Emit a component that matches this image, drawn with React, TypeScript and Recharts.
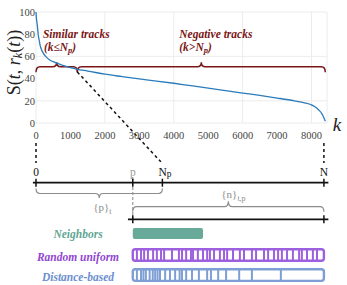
import React from 'react';
import {
  LineChart,
  Line,
  XAxis,
  YAxis,
  CartesianGrid,
  ReferenceLine,
  ReferenceArea,
  ReferenceDot,
} from 'recharts';

// ---------- data ----------
const kValues = [0, 10, 25, 40, 65, 90, 120, 160, 210, 280, 400, 550, 700, 850, 1000, 1200, 1500, 2000, 2500, 3000, 3500, 4000, 4500, 5000, 5500, 6000, 6500, 7000, 7500, 7800, 8000, 8100, 8200, 8300, 8350, 8400];
const scoreValues = [100, 95, 91, 87.5, 79.5, 75, 70, 66, 63, 60, 56.8, 54.6, 52.9, 51.3, 49.8, 48.3, 46.8, 44, 41.8, 39.7, 37.8, 35.8, 33.6, 31.4, 29.2, 27, 24.8, 22.5, 20, 18.2, 16.3, 14.6, 12, 8.5, 5.5, 1.5];
const xTicks = [0, 1000, 2000, 3000, 4000, 5000, 6000, 7000, 8000];
const yTicks = [0, 20, 40, 60, 80, 100];

const K_MAX = 8400; // last track (top curve)
const NP_TOP = 1200; // N_p on the top curve
const BRACE_LEVEL = 50.7;

// schematic number line (in k units)
const SCH_ZERO = 0;
const SCH_P = 2810;
const SCH_NP = 3670;
const SCH_N = 8360;
const NEIGHBORS_END = 4850;

const randomStripes = [2930, 3050, 3140, 3250, 3400, 3510, 3630, 3720, 3950, 4150, 4240, 4360, 4500, 4560, 4700, 4850, 4970, 5050, 5170, 5340, 5460, 5550, 5720, 5920, 6040, 6270, 6390, 6620, 6740, 6910, 7030, 7140, 7290, 7460, 7640, 7720, 7870, 8040, 8160];
const distanceStripes = [2930, 3050, 3120, 3190, 3300, 3390, 3460, 3530, 3600, 3750, 3890, 4040, 4170, 4240, 4360, 4530, 4730, 4970, 5080, 5290, 5520, 5900, 6270, 7110];

// schematic rows (in score units, below the plot)
const ROW_DASH = [-18, -36];
const ROW_TICK_LABEL = -47.7;
const ROW_LINE1 = -53.8;
const TICK_HALF = 3.6;
const ROW_BRACE1 = -63.5;
const ROW_BRACE1_LABEL = -79.3;
const ROW_BRACE2 = -75.4;
const ROW_BRACE2_LABEL = -67.6;
const ROW_LINE2 = -86.8;
const ROW_P_DASH = [-48.6, -90.1];
const ROW_NEIGH = [-94.6, -104.5];
const ROW_RAND = [-113.7, -124.1];
const ROW_DIST = [-131.7, -142.2];
const ROW_NEIGH_LABEL = -104;
const ROW_RAND_LABEL = -124.3;
const ROW_DIST_LABEL = -141.9;
const LEGEND_LABEL_K = 1220;

const curveData = kValues.map((k, i) => ({ k, s: scoreValues[i] }));

// ---------- styles ----------
const FONT = "'Liberation Serif', 'Times New Roman', Times, serif";
const RED = '#7a1616';
const BLUE = '#2b7bba';
const GRAY = '#8c8c8c';
const TEAL = '#68aa9a';
const TEAL_TXT = '#5fa693';
const PURPLE = '#9d60df';
const PURPLE_TXT = '#9146d2';
const LBLUE = '#7d9fd5';
const LBLUE_TXT = '#6c8fd0';

function braceShape(dir: number, curl: number, tip: number, r: number) {
  return (props: any) => {
    const { x1, x2, y1, stroke, strokeWidth } = props;
    const xa = Math.min(x1, x2);
    const xb = Math.max(x1, x2);
    const y = y1;
    const xm = (xa + xb) / 2;
    const d = `M${xa},${y + dir * curl} Q${xa},${y} ${xa + r},${y} L${xm - r},${y} Q${xm},${y} ${xm},${y - dir * tip} Q${xm},${y} ${xm + r},${y} L${xb - r},${y} Q${xb},${y} ${xb},${y + dir * curl}`;
    return <path d={d} fill="none" stroke={stroke} strokeWidth={strokeWidth} />;
  };
}

function textShape(render: (cx: number, cy: number) => React.ReactElement) {
  return (props: any) => render(props.cx, props.cy);
}

function rectShape(fill: string, stroke: string, strokeWidth: number, rx: number) {
  return (props: any) => (
    <rect x={props.x} y={props.y} width={props.width} height={props.height} rx={rx} ry={rx} fill={fill} stroke={stroke} strokeWidth={strokeWidth} />
  );
}

const V = 'visible' as const;
const serif = { fontFamily: FONT };

export default function App() {
  const lineTicks = [SCH_ZERO, SCH_P, SCH_NP, SCH_N];
  return (
    <div style={{ position: 'absolute', left: 0, top: 0, width: 347, height: 285, background: '#fff', fontFamily: FONT }}>
      <LineChart width={347} height={285} data={curveData} margin={{ top: 12, right: 20, bottom: 142, left: 0 }} style={serif}>
        <CartesianGrid stroke="#ececec" strokeWidth={1} />
        <XAxis
          dataKey="k"
          type="number"
          domain={[0, 8450]}
          ticks={xTicks}
          tickLine={false}
          axisLine={false}
          tickSize={0}
          tickMargin={9}
          height={20}
          tick={{ fontSize: 10.5, fill: '#444', fontFamily: FONT, style: serif }}
        />
        <YAxis
          type="number"
          domain={[0, 100]}
          ticks={yTicks}
          tickLine={false}
          axisLine={false}
          tickSize={0}
          tickMargin={1}
          width={36}
          tick={{ fontSize: 10.5, fill: '#444', fontFamily: FONT, style: serif }}
        />

        {/* red braces */}
        <ReferenceLine ifOverflow={V} segment={[{ x: 0, y: BRACE_LEVEL }, { x: NP_TOP, y: BRACE_LEVEL }]} stroke={RED} strokeWidth={1.5} shape={braceShape(1, 5.5, 4.5, 4)} />
        <ReferenceLine ifOverflow={V} segment={[{ x: NP_TOP, y: BRACE_LEVEL }, { x: K_MAX, y: BRACE_LEVEL }]} stroke={RED} strokeWidth={1.5} shape={braceShape(1, 5.5, 4.5, 4)} />

        <Line type="monotone" dataKey="s" stroke={BLUE} strokeWidth={1.3} dot={false} isAnimationActive={false} />

        {/* red texts */}
        <ReferenceDot ifOverflow={V} x={200} y={76.9} r={0} shape={textShape((cx, cy) => (
          <text x={cx} y={cy} fill={RED} style={serif} fontSize={11.5} fontWeight="bold" fontStyle="italic">Similar tracks</text>
        ))} />
        <ReferenceDot ifOverflow={V} x={230} y={65.3} r={0} shape={textShape((cx, cy) => (
          <text x={cx} y={cy} fill={RED} style={serif} fontSize={11.5} fontWeight="bold" fontStyle="italic">(k≤N<tspan fontSize={8.5} dy={2.5}>p</tspan><tspan dy={-2.5}>)</tspan></text>
        ))} />
        <ReferenceDot ifOverflow={V} x={4160} y={76.9} r={0} shape={textShape((cx, cy) => (
          <text x={cx} y={cy} fill={RED} style={serif} fontSize={11.5} fontWeight="bold" fontStyle="italic">Negative tracks</text>
        ))} />
        <ReferenceDot ifOverflow={V} x={4160} y={65.3} r={0} shape={textShape((cx, cy) => (
          <text x={cx} y={cy} fill={RED} style={serif} fontSize={11.5} fontWeight="bold" fontStyle="italic">(k&gt;N<tspan fontSize={8.5} dy={2.5}>p</tspan><tspan dy={-2.5}>)</tspan></text>
        ))} />

        {/* axis titles */}
        <ReferenceDot ifOverflow={V} x={-640} y={54.5} r={0} shape={textShape((cx, cy) => (
          <text transform={`rotate(-90 ${cx} ${cy})`} x={cx} y={cy} textAnchor="middle" dominantBaseline="central" style={serif} fontSize={18} fill="#222">
            S(<tspan fontStyle="italic">t</tspan>, <tspan fontStyle="italic">r</tspan><tspan fontStyle="italic" fontSize={12} dy={4}>k</tspan><tspan dy={-4}>(</tspan><tspan fontStyle="italic">t</tspan>))
          </text>
        ))} />
        <ReferenceDot ifOverflow={V} x={8740} y={-7.2} r={0} shape={textShape((cx, cy) => (
          <text x={cx} y={cy} textAnchor="middle" style={serif} fontSize={19} fontStyle="italic" fill="#222">k</text>
        ))} />

        {/* dashed connectors */}
        <ReferenceLine ifOverflow={V} segment={[{ x: NP_TOP, y: 46 }, { x: 3625, y: -35 }]} stroke="#111" strokeWidth={1.5} strokeDasharray="3 3" />
        <ReferenceLine ifOverflow={V} segment={[{ x: SCH_ZERO, y: ROW_DASH[0] }, { x: SCH_ZERO, y: ROW_DASH[1] }]} stroke="#111" strokeWidth={1.5} strokeDasharray="3 3" />
        <ReferenceLine ifOverflow={V} segment={[{ x: SCH_N, y: ROW_DASH[0] }, { x: SCH_N, y: ROW_DASH[1] }]} stroke="#111" strokeWidth={1.5} strokeDasharray="3 3" />
        <ReferenceLine ifOverflow={V} segment={[{ x: SCH_P, y: ROW_P_DASH[0] }, { x: SCH_P, y: ROW_P_DASH[1] }]} stroke="#9a9a9a" strokeWidth={1.2} strokeDasharray="3 2" />

        {/* number line 1 */}
        <ReferenceLine ifOverflow={V} segment={[{ x: -90, y: ROW_LINE1 }, { x: 8490, y: ROW_LINE1 }]} stroke="#111" strokeWidth={1.8} />
        {lineTicks.map((k) => (
          <ReferenceLine key={'t1' + k} ifOverflow={V} segment={[{ x: k, y: ROW_LINE1 + TICK_HALF }, { x: k, y: ROW_LINE1 - TICK_HALF }]} stroke="#111" strokeWidth={1.5} />
        ))}
        <ReferenceDot ifOverflow={V} x={SCH_ZERO} y={ROW_TICK_LABEL} r={0} shape={textShape((cx, cy) => (
          <text x={cx} y={cy} textAnchor="middle" style={serif} fontSize={11.5} fill="#111">0</text>
        ))} />
        <ReferenceDot ifOverflow={V} x={SCH_P} y={ROW_TICK_LABEL} r={0} shape={textShape((cx, cy) => (
          <text x={cx} y={cy} textAnchor="middle" style={serif} fontSize={11.5} fill="#999">p</text>
        ))} />
        <ReferenceDot ifOverflow={V} x={SCH_NP} y={ROW_TICK_LABEL} r={0} shape={textShape((cx, cy) => (
          <text x={cx - 4} y={cy} style={serif} fontSize={11.5} fill="#111">N<tspan fontSize={9.5} dy={1.5}>p</tspan></text>
        ))} />
        <ReferenceDot ifOverflow={V} x={SCH_N} y={ROW_TICK_LABEL} r={0} shape={textShape((cx, cy) => (
          <text x={cx} y={cy} textAnchor="middle" style={serif} fontSize={11.5} fill="#111">N</text>
        ))} />

        {/* gray braces */}
        <ReferenceLine ifOverflow={V} segment={[{ x: SCH_ZERO, y: ROW_BRACE1 }, { x: SCH_NP, y: ROW_BRACE1 }]} stroke={GRAY} strokeWidth={1.2} shape={braceShape(-1, 5, 4.5, 4)} />
        <ReferenceDot ifOverflow={V} x={(SCH_ZERO + SCH_NP) / 2} y={ROW_BRACE1_LABEL} r={0} shape={textShape((cx, cy) => (
          <text x={cx - 6} y={cy} style={serif} fontSize={11} fill={GRAY}>{'{p}'}<tspan fontSize={8} dy={2.5}>t</tspan></text>
        ))} />
        <ReferenceLine ifOverflow={V} segment={[{ x: SCH_P, y: ROW_BRACE2 }, { x: SCH_N, y: ROW_BRACE2 }]} stroke={GRAY} strokeWidth={1.2} shape={braceShape(1, 5, 5.5, 4)} />
        <ReferenceDot ifOverflow={V} x={(SCH_P + SCH_N) / 2} y={ROW_BRACE2_LABEL} r={0} shape={textShape((cx, cy) => (
          <text x={cx - 7} y={cy} style={serif} fontSize={11} fill={GRAY}>{'{n}'}<tspan fontSize={8} dy={2.5}>t,p</tspan></text>
        ))} />

        {/* number line 2 */}
        <ReferenceLine ifOverflow={V} segment={[{ x: 2670, y: ROW_LINE2 }, { x: 8490, y: ROW_LINE2 }]} stroke="#111" strokeWidth={1.8} />
        {[SCH_P, SCH_N].map((k) => (
          <ReferenceLine key={'t2' + k} ifOverflow={V} segment={[{ x: k, y: ROW_LINE2 + TICK_HALF }, { x: k, y: ROW_LINE2 - TICK_HALF }]} stroke="#111" strokeWidth={1.5} />
        ))}

        {/* sampling strategies */}
        <ReferenceArea ifOverflow={V} x1={SCH_P} x2={NEIGHBORS_END} y1={ROW_NEIGH[0]} y2={ROW_NEIGH[1]} shape={rectShape(TEAL, 'none', 0, 2)} />
        <ReferenceArea ifOverflow={V} x1={SCH_P} x2={SCH_N} y1={ROW_RAND[0]} y2={ROW_RAND[1]} shape={rectShape('none', PURPLE, 2.4, 2.5)} />
        {randomStripes.map((k) => (
          <ReferenceLine key={'r' + k} ifOverflow={V} segment={[{ x: k, y: ROW_RAND[0] }, { x: k, y: ROW_RAND[1] }]} stroke={PURPLE} strokeWidth={2} />
        ))}
        <ReferenceArea ifOverflow={V} x1={SCH_P} x2={SCH_N} y1={ROW_DIST[0]} y2={ROW_DIST[1]} shape={rectShape('none', LBLUE, 2.4, 2.5)} />
        {distanceStripes.map((k) => (
          <ReferenceLine key={'d' + k} ifOverflow={V} segment={[{ x: k, y: ROW_DIST[0] }, { x: k, y: ROW_DIST[1] }]} stroke={LBLUE} strokeWidth={2} />
        ))}

        <ReferenceDot ifOverflow={V} x={LEGEND_LABEL_K} y={ROW_NEIGH_LABEL} r={0} shape={textShape((cx, cy) => (
          <text x={cx} y={cy} textAnchor="middle" style={serif} fontSize={11.5} fontWeight="bold" fontStyle="italic" fill={TEAL_TXT}>Neighbors</text>
        ))} />
        <ReferenceDot ifOverflow={V} x={LEGEND_LABEL_K} y={ROW_RAND_LABEL} r={0} shape={textShape((cx, cy) => (
          <text x={cx} y={cy} textAnchor="middle" style={serif} fontSize={11.5} fontWeight="bold" fontStyle="italic" fill={PURPLE_TXT}>Random uniform</text>
        ))} />
        <ReferenceDot ifOverflow={V} x={LEGEND_LABEL_K} y={ROW_DIST_LABEL} r={0} shape={textShape((cx, cy) => (
          <text x={cx} y={cy} textAnchor="middle" style={serif} fontSize={11.5} fontWeight="bold" fontStyle="italic" fill={LBLUE_TXT}>Distance-based</text>
        ))} />
      </LineChart>
    </div>
  );
}
